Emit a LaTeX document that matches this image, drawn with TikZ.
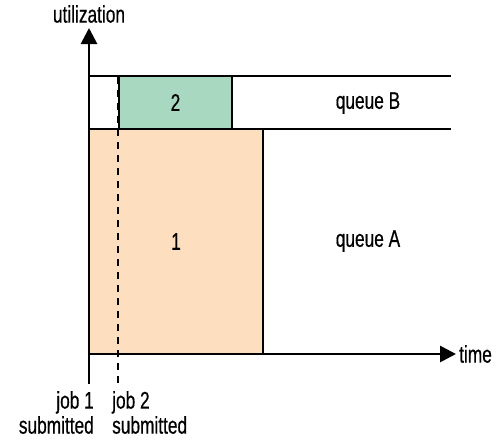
\documentclass[tikz,border=0pt]{standalone}
\usepackage{fontspec}
\setmainfont[FakeStretch=0.72, FakeBold=0.5]{Liberation Sans}
\usepackage{tikz}
\usetikzlibrary{arrows.meta, positioning}

\definecolor{jobA}{RGB}{253,222,190}
\definecolor{jobB}{RGB}{168,216,192}

\begin{document}
\begin{tikzpicture}[
        x=1pt, y=-1pt,
        font=\fontsize{24}{25}\selectfont,
        job/.style={
            draw,
            line width=2.4pt,
            inner sep=0pt
        },
        axis/.style={-{Triangle[length=16pt, width=16pt]}, line width=2.8pt},
        lane/.style={line width=2.6pt},
        marker/.style={line width=2.4pt, dash pattern=on 7pt off 6pt},
        label/.style={inner sep=0pt, align=left}
    ]

        \useasboundingbox (0,0) rectangle (503,442);

        % ---- Jobs ----
        \node[job, fill=jobA, minimum width=174pt, minimum height=225pt] (jobone) at (176,241.5) {1};
        \node[job, fill=jobB, minimum width=113pt, minimum height=53pt] (jobtwo) at (175.5,102.5) {2};

        % ---- Queue lanes ----
        \coordinate (btop) at (89,76);
        \coordinate (btopend) at (451,76);
        \coordinate (bbot) at (89,129);
        \coordinate (bbotend) at (451,129);
        \draw[lane] (btop) -- (btopend);
        \draw[lane] (bbot) -- (bbotend);

        \node (qb) at (368,103) {queue B};
        \node (qa) at (368,241) {queue A};

        % ---- Axes ----
        \coordinate (ybot) at (89,384);
        \coordinate (ytop) at (89,28);
        \coordinate (xend) at (456,354);
        \coordinate (origin) at (89,354);
        \draw[axis] (ybot) -- (ytop);
        \draw[axis] (origin) -- (xend);

        \node[label] (ylabel) at (89,14) {utilization};
        \node[label, anchor=west] (xlabel) at (459,354) {time};

        % ---- Submission markers ----
        \coordinate (subtop) at (118,77);
        \coordinate (subbot) at (118,384);
        \draw[marker] (subtop) -- (subbot);

        \node[label, align=right, anchor=north east] (sub1) at (94,391) {job 1\\submitted};
        \node[label, anchor=north west] (sub2) at (112,391) {job 2\\submitted};

    \end{tikzpicture}
\end{document}
